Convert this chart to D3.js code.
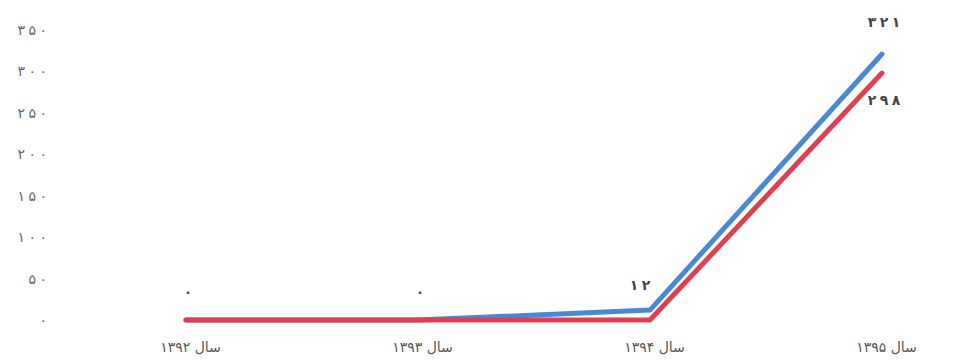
<!DOCTYPE html>
<html>
<head>
<meta charset="utf-8">
<script src="https://cdn.jsdelivr.net/npm/d3@7"></script>
<style>
    body { margin: 0; background: #fff; }
    text { font-family: 'DejaVu Sans', sans-serif; }
</style>
</head>
<body>
<div id="chart"></div>
<script>
// chart data
let years = ['سال ۱۳۹۲', 'سال ۱۳۹۳', 'سال ۱۳۹۴', 'سال ۱۳۹۵']
let blueValues = [0, 0, 12, 321]
let redValues = [0, 0, 0, 298]
let yTicks = [0, 50, 100, 150, 200, 250, 300, 350]

let svgWidth = 967
let svgHeight = 364

// persian digits, spaced out like the scan
const fa = n => String(n).split('').map(c => '۰۱۲۳۴۵۶۷۸۹'[c]).join('\u2005')

let svg = d3.select('#chart')
    .append('svg')
    .attr('width', svgWidth)
    .attr('height', svgHeight)

let xScale = d3.scalePoint()
    .domain(years)
    .range([186, 882])

let yScale = d3.scaleLinear()
    .domain([0, 350])
    .range([320, 30])

// y axis, labels only
let yAxis = svg.append('g')
    .attr('transform', 'translate(47, 0)')
    .call(d3.axisLeft(yScale).tickValues(yTicks).tickSize(0).tickPadding(0).tickFormat(fa))
yAxis.select('.domain').remove()
yAxis.selectAll('text')
    .attr('fill', '#666')
    .attr('font-size', 14)

// x axis labels
let xAxis = svg.append('g')
    .attr('transform', 'translate(4, 342)')
    .call(d3.axisBottom(xScale).tickSize(0).tickPadding(0))
xAxis.select('.domain').remove()
xAxis.selectAll('text')
    .attr('fill', '#555')
    .attr('font-size', 14)
    .attr('direction', 'rtl')

let line = d3.line()
    .x((d, i) => xScale(years[i]))
    .y(d => yScale(d))

svg.append('path')
    .datum(blueValues)
    .attr('d', line)
    .attr('fill', 'none')
    .attr('stroke', '#4a88d6')
    .attr('stroke-width', 5)
    .attr('stroke-linecap', 'round')
    .attr('stroke-linejoin', 'round')

svg.append('path')
    .datum(redValues)
    .attr('d', line)
    .attr('fill', 'none')
    .attr('stroke', '#df3f50')
    .attr('stroke-width', 5)
    .attr('stroke-linecap', 'round')
    .attr('stroke-linejoin', 'round')

// value labels
let labelOffsets = [-23, -23, -20, -27]
svg.selectAll('.blueLabel')
    .data(blueValues)
    .enter()
    .append('text')
    .classed('blueLabel', true)
    .attr('x', (d, i) => xScale(years[i]) - (i === 2 ? 10 : -2))
    .attr('y', (d, i) => yScale(d) + labelOffsets[i])
    .attr('text-anchor', 'middle')
    .attr('font-size', 14)
    .attr('font-weight', 'bold')
    .attr('fill', '#444')
    .text(fa)

svg.append('text')
    .attr('x', xScale(years[3]) + 2)
    .attr('y', yScale(redValues[3]) + 32)
    .attr('text-anchor', 'middle')
    .attr('font-size', 14)
    .attr('font-weight', 'bold')
    .attr('fill', '#444')
    .text(fa(redValues[3]))
</script>
</body>
</html>
